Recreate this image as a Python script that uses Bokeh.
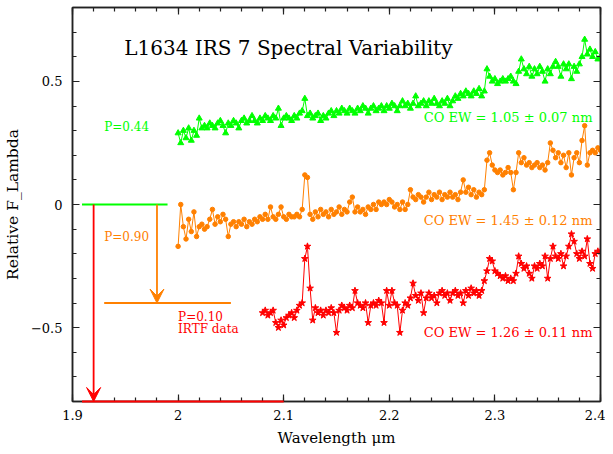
import numpy as np
from bokeh.plotting import figure
from bokeh.models import Range1d, LinearAxis, FixedTicker, Arrow, VeeHead, Label
from bokeh.embed import file_html
from bokeh.resources import INLINE

# ---------------- data ----------------
wl_step = 0.0025
green_start = 2.0
orange_start = 2.0
red_start = 2.08

green_flux = [
    0.29, 0.25, 0.30, 0.27, 0.31, 0.26, 0.30, 0.28, 0.35, 0.31,
    0.32, 0.31, 0.33, 0.32, 0.31, 0.33, 0.34, 0.32, 0.29, 0.33,
    0.32, 0.34, 0.33, 0.31, 0.34, 0.35, 0.33, 0.34, 0.36, 0.34,
    0.33, 0.35, 0.34, 0.36, 0.35, 0.34, 0.36, 0.35, 0.39, 0.32,
    0.35, 0.36, 0.35, 0.34, 0.36, 0.35, 0.37, 0.38, 0.43, 0.36,
    0.37, 0.35, 0.36, 0.37, 0.34, 0.36, 0.35, 0.37, 0.38, 0.36,
    0.38, 0.37, 0.39, 0.38, 0.37, 0.39, 0.38, 0.37, 0.39, 0.38,
    0.40, 0.39, 0.37, 0.39, 0.40, 0.38, 0.39, 0.40, 0.38, 0.40,
    0.39, 0.41, 0.40, 0.38, 0.40, 0.42, 0.40, 0.41, 0.39, 0.41,
    0.44, 0.40, 0.41, 0.42, 0.40, 0.42, 0.41, 0.43, 0.41, 0.40,
    0.42, 0.41, 0.43, 0.40, 0.42, 0.44, 0.43, 0.45, 0.44, 0.46,
    0.45, 0.44, 0.46, 0.45, 0.47, 0.44, 0.46, 0.55, 0.52, 0.50,
    0.51, 0.49, 0.50, 0.51, 0.50, 0.51, 0.52, 0.50, 0.49, 0.54,
    0.59, 0.55, 0.53, 0.56, 0.52, 0.55, 0.53, 0.56, 0.54, 0.50,
    0.55, 0.53, 0.56, 0.58, 0.56, 0.52, 0.57, 0.55, 0.57, 0.51,
    0.56, 0.54, 0.57, 0.60, 0.67, 0.61, 0.63, 0.60, 0.62, 0.59,
    0.60,
]

orange_flux = [
    -0.17, 0.00, -0.09, -0.14, -0.06, -0.11, -0.03, -0.13, -0.09, -0.08,
    -0.10, -0.09, -0.06, -0.02, -0.08, -0.05, -0.07, -0.04, -0.06, -0.13,
    -0.08, -0.07, -0.09, -0.07, -0.08, -0.06, -0.09, -0.07, -0.08, -0.06,
    -0.07, -0.05, -0.06, -0.04, -0.06, -0.01, -0.05, -0.06, -0.04, -0.01,
    -0.05, -0.06, -0.04, -0.05, -0.05, -0.04, -0.05, -0.02, 0.12, 0.11,
    -0.04, -0.06, -0.03, -0.05, -0.02, -0.04, -0.03, -0.05, -0.02, -0.04,
    -0.03, -0.01, -0.04, -0.02, -0.03, 0.01, 0.03, -0.03, -0.01, -0.03,
    -0.02, -0.04, -0.01, -0.02, 0.00, -0.02, 0.01, 0.00, 0.01, 0.00,
    0.02, 0.01, -0.01, 0.00, -0.02, 0.01, -0.02, 0.00, 0.06, 0.03,
    0.02, 0.04, 0.03, 0.01, 0.03, 0.05, 0.02, 0.04, 0.03, 0.05,
    0.02, 0.04, 0.03, 0.05, 0.03, 0.04, 0.02, 0.05, 0.10, 0.05,
    0.07, 0.04, 0.06, 0.03, 0.05, 0.04, 0.06, 0.18, 0.21, 0.16,
    0.14, 0.13, 0.14, 0.12, 0.13, 0.15, 0.13, 0.06, 0.13, 0.21,
    0.17, 0.19, 0.16, 0.17, 0.15, 0.16, 0.17, 0.15, 0.16, 0.14,
    0.17, 0.25, 0.22, 0.19, 0.21, 0.17, 0.20, 0.15, 0.21, 0.12,
    0.19, 0.21, 0.17, 0.26, 0.32, 0.16, 0.21, 0.22, 0.21, 0.23,
    0.22,
]

red_flux = [
    -0.44, -0.43, -0.45, -0.44, -0.43, -0.48, -0.50, -0.47, -0.49, -0.46,
    -0.45, -0.44, -0.46, -0.43, -0.41, -0.40, -0.22, -0.17, -0.34, -0.47,
    -0.42, -0.44, -0.43, -0.45, -0.43, -0.44, -0.42, -0.44, -0.52, -0.43,
    -0.41, -0.42, -0.43, -0.41, -0.42, -0.35, -0.40, -0.41, -0.42, -0.40,
    -0.48, -0.41, -0.40, -0.41, -0.39, -0.40, -0.48, -0.35, -0.41, -0.35,
    -0.40, -0.41, -0.52, -0.43, -0.40, -0.41, -0.38, -0.32, -0.37, -0.39,
    -0.36, -0.44, -0.38, -0.36, -0.38, -0.37, -0.40, -0.36, -0.35, -0.37,
    -0.36, -0.39, -0.36, -0.35, -0.37, -0.36, -0.40, -0.35, -0.37, -0.34,
    -0.36, -0.35, -0.37, -0.35, -0.31, -0.27, -0.22, -0.23, -0.27, -0.28,
    -0.29, -0.30, -0.29, -0.31, -0.30, -0.31, -0.28, -0.21, -0.24, -0.26,
    -0.25, -0.28, -0.30, -0.25, -0.26, -0.24, -0.25, -0.21, -0.30, -0.22,
    -0.17, -0.21, -0.22, -0.20, -0.25, -0.21, -0.17, -0.12, -0.15, -0.20,
    -0.22, -0.19, -0.21, -0.14, -0.24, -0.26, -0.20, -0.19, -0.19,
]

x_ticks = [1.9, 2.0, 2.1, 2.2, 2.3, 2.4]
x_tick_labels = ["1.9", "2", "2.1", "2.2", "2.3", "2.4"]
y_ticks = [-0.5, 0.0, 0.5]
y_tick_labels = ["\u22120.5", "0", "0.5"]

title_text = "L1634 IRS 7 Spectral Variability"
co_texts = ["CO EW = 1.05 \u00b1 0.07 nm", "CO EW = 1.45 \u00b1 0.12 nm", "CO EW = 1.26 \u00b1 0.11 nm"]
co_y = [0.355, -0.065, -0.52]
p_texts = ["P=0.44", "P=0.90", "P=0.10", "IRTF data"]
p_x = [1.930, 1.930, 2.0, 2.0]
p_y = [0.313, -0.134, -0.455, -0.504]

GREEN = "#00ff00"
ORANGE = "#ff8000"
RED = "#ff0000"
FONT = "DejaVu Serif"

green_wl = green_start + wl_step * np.arange(len(green_flux))
orange_wl = orange_start + wl_step * np.arange(len(orange_flux))
red_wl = red_start + wl_step * np.arange(len(red_flux))

# ---------------- figure ----------------
p = figure(width=605, height=452,
           x_range=Range1d(1.9, 2.4), y_range=Range1d(-0.8, 0.8),
           output_backend="svg", toolbar_location=None,
           min_border_left=71, min_border_right=5, min_border_top=7, min_border_bottom=51,
           x_axis_label="Wavelength \u03bcm", y_axis_label="Relative F_Lambda")
p.grid.visible = False
p.outline_line_color = "#222222"
p.outline_line_width = 1.5
p.background_fill_color = "white"
p.border_fill_color = "white"

x_minor = [round(1.9 + 0.02 * i, 4) for i in range(26)]
y_minor = [round(-0.8 + 0.1 * i, 4) for i in range(17)]
xt = FixedTicker(ticks=x_ticks, minor_ticks=x_minor)
yt = FixedTicker(ticks=y_ticks, minor_ticks=y_minor)


def style(ax, show_labels):
    ax.major_tick_in = 7
    ax.major_tick_out = 0
    ax.minor_tick_in = 4
    ax.minor_tick_out = 0
    ax.axis_line_color = "#222222"
    ax.axis_line_width = 1.5
    ax.major_tick_line_color = "#222222"
    ax.minor_tick_line_color = "#222222"
    ax.major_tick_line_width = 1.2
    ax.minor_tick_line_width = 1.2
    ax.major_label_text_font = FONT
    ax.major_label_text_font_size = "13px"
    ax.major_label_text_color = "black"
    ax.major_label_standoff = 8
    ax.axis_label_text_font = FONT
    ax.axis_label_text_font_size = "15px"
    ax.axis_label_text_font_style = "normal"
    ax.axis_label_text_color = "black"
    ax.axis_label_standoff = 6
    if not show_labels:
        ax.major_label_text_font_size = "1px"
        ax.major_label_text_color = None
        ax.major_label_standoff = 0


p.xaxis.ticker = xt
p.yaxis.ticker = yt
p.xaxis.major_label_overrides = dict(zip(x_ticks, x_tick_labels))
p.yaxis.major_label_overrides = dict(zip(y_ticks, y_tick_labels))
style(p.xaxis[0], True)
style(p.yaxis[0], True)
p.yaxis[0].axis_label_text_font_size = "15.5px"
p.yaxis[0].major_label_standoff = 10

top = LinearAxis(ticker=xt)
right = LinearAxis(ticker=yt)
style(top, False)
style(right, False)
p.add_layout(top, "above")
p.add_layout(right, "right")

# ---------------- spectra ----------------
p.line(green_wl, green_flux, line_color=GREEN, line_width=1)
p.scatter(green_wl, green_flux, marker="triangle", size=6, fill_color=GREEN, line_color=GREEN)
p.line(orange_wl, orange_flux, line_color=ORANGE, line_width=1)
p.scatter(orange_wl, orange_flux, marker="circle", size=4.5, fill_color=ORANGE, line_color=ORANGE)
p.line(red_wl, red_flux, line_color=RED, line_width=1)
p.scatter(red_wl, red_flux, marker="star", size=7, fill_color=RED, line_color=RED)

# ---------------- period markers ----------------
seg_x0 = [1.909, 1.93, 1.909]
seg_x1 = [1.99, 2.05, 2.10]
seg_y = [0.0, -0.4, -0.8]
seg_colors = [GREEN, ORANGE, RED]
p.segment(seg_x0, seg_y, seg_x1, seg_y, line_color=seg_colors, line_width=2, level="overlay")

arrow_x = [1.92, 1.98]
arrow_y0 = [0.0, 0.0]
arrow_y1 = [-0.8, -0.4]
arrow_colors = [RED, ORANGE]
for ax_, y0, y1, c in zip(arrow_x, arrow_y0, arrow_y1, arrow_colors):
    p.add_layout(Arrow(end=VeeHead(size=14, fill_color=c, line_color=c, line_width=1),
                       x_start=ax_, y_start=y0, x_end=ax_, y_end=y1,
                       line_color=c, line_width=1.8, level="overlay"))

# ---------------- texts ----------------
p.add_layout(Label(x=1.949, y=0.634, text=title_text, text_font=FONT, text_font_size="20px",
                   text_color="black", text_baseline="middle", text_align="left"))
for t, yy, c in zip(co_texts, co_y, [GREEN, ORANGE, RED]):
    p.add_layout(Label(x=2.3924, y=yy, text=t, text_font=FONT, text_font_size="13px",
                       text_color=c, text_baseline="middle", text_align="right"))
for t, xx, yy, c in zip(p_texts, p_x, p_y, [GREEN, ORANGE, RED, RED]):
    p.add_layout(Label(x=xx, y=yy, text=t, text_font=FONT, text_font_size="12px",
                       text_color=c, text_baseline="middle", text_align="left"))

open("out.html", "w").write(file_html(p, INLINE))
